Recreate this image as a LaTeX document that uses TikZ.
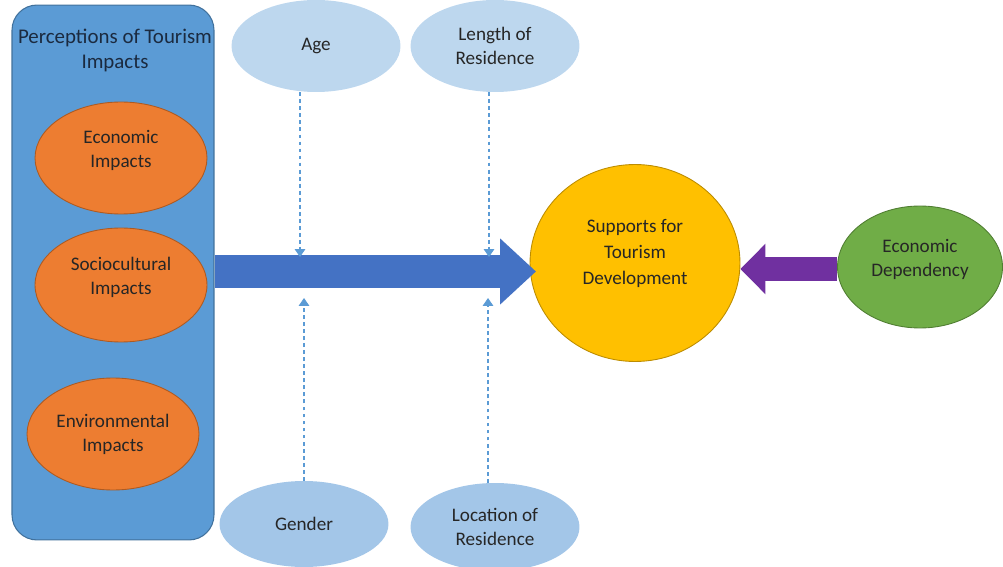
\documentclass[tikz,border=0pt]{standalone}
\usepackage{fontspec}
\setmainfont{Carlito}
\usetikzlibrary{shapes.geometric,arrows.meta}
\definecolor{panelblue}{HTML}{5B9BD5}
\definecolor{paneledge}{HTML}{41719C}
\definecolor{orangefill}{HTML}{ED7D31}
\definecolor{orangeedge}{HTML}{AE5A21}
\definecolor{lightblueA}{HTML}{BDD7EE}
\definecolor{lightblueB}{HTML}{A3C6E8}
\definecolor{arrowblue}{HTML}{4472C4}
\definecolor{goldfill}{HTML}{FFC000}
\definecolor{goldedge}{HTML}{BC8C00}
\definecolor{purplearrow}{HTML}{7030A0}
\definecolor{greenfill}{HTML}{70AD47}
\definecolor{greenedge}{HTML}{507E32}
\definecolor{dashblue}{HTML}{5B9BD5}
\definecolor{textdark}{HTML}{262626}
\definecolor{titledark}{HTML}{1B2A3F}
\begin{document}
\begin{tikzpicture}[x=0.02cm,y=-0.02cm,
  lbl/.style={font=\fontsize{10.9}{13.6}\selectfont, text=textdark, align=center},
  oval/.style={ellipse, inner sep=0pt, lbl},
  impact/.style={oval, fill=orangefill, draw=orangeedge, line width=0.5pt,
     minimum width=3.44cm, minimum height=2.24cm},
  factorA/.style={oval, fill=lightblueA, draw=none, minimum width=3.38cm, minimum height=1.84cm},
  factorB/.style={oval, fill=lightblueB, draw=none, minimum width=3.38cm, minimum height=1.72cm},
  dasharrow/.style={draw=dashblue, line width=0.6pt, dash pattern=on 2.2pt off 1.8pt,
     -{Triangle[length=4.5pt,width=6pt]}},
]
\useasboundingbox (0,0) rectangle (1003,567);

% left panel
\node[draw=paneledge, fill=panelblue, rounded corners=0.5cm, line width=0.6pt,
      minimum width=4.04cm, minimum height=10.7cm, inner sep=0pt] (panel) at (113,272.5) {};
\node[lbl, text=titledark, font=\fontsize{11.9}{14.2}\selectfont] (title) at (115,50) {Perceptions of Tourism\\Impacts};

\node[impact] (econ) at (121,158) {Economic\\Impacts\\[-3pt]};
\node[impact, minimum height=2.28cm] (socio) at (121,285) {Sociocultural\\Impacts\\[-3pt]};
\node[impact] (env) at (113,434) {Environmental\\Impacts};

% moderators
\node[factorA] (age) at (316,46) {Age};
\node[factorA] (len) at (495,46) {Length of\\Residence};
\node[factorB] (gender) at (304,524) {Gender};
\node[factorB, minimum height=1.76cm] (loc) at (495,527) {Location of\\Residence};

% outcome and dependency
\node[oval, fill=goldfill, draw=goldedge, line width=0.5pt,
      minimum width=4.2cm, minimum height=3.94cm, font=\fontsize{10.9}{14.6}\selectfont] (sup) at (635,263) {Supports for\\Tourism\\Development\\[-2pt]};
\node[oval, fill=greenfill, draw=greenedge, line width=0.5pt,
      minimum width=3.3cm, minimum height=2.44cm] (dep) at (920,267) {Economic\\Dependency\\[-3pt]};

% main arrow
\coordinate (mainstart) at (215,271.5);
\coordinate (maintip) at (536,271.5);
\draw[arrowblue, line width=0.66cm, -{Triangle[length=0.72cm,width=1.28cm]}]
  (mainstart) -- (maintip);

% purple arrow
\draw[purplearrow, line width=0.48cm, -{Triangle[length=0.5cm,width=0.98cm]}]
  (dep.west |- 0,269) -- (sup.east |- 0,269);

% dashed moderator arrows
\coordinate (ageend) at (300,257);
\coordinate (lenend) at (489,257);
\coordinate (genend) at (304,298);
\coordinate (locend) at (488,298);
\draw[dasharrow] (age.south -| ageend) -- (ageend);
\draw[dasharrow] (len.south -| lenend) -- (lenend);
\draw[dasharrow] (gender.north -| genend) -- (genend);
\draw[dasharrow] (loc.north -| locend) -- (locend);
\end{tikzpicture}
\end{document}
